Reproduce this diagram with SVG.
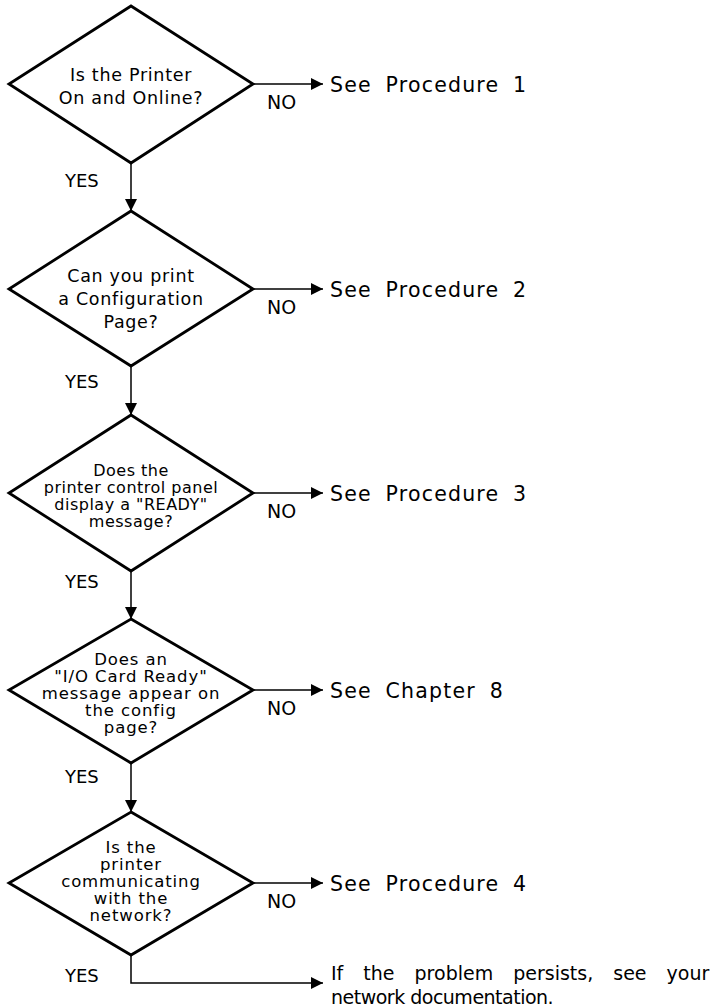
<svg xmlns="http://www.w3.org/2000/svg" width="718" height="1008" viewBox="0 0 718 1008">
<style>
.bg{fill:#fff}
.dia{fill:#fff;stroke:#000;stroke-width:2.8;stroke-linejoin:miter}
.con{fill:none;stroke:#000;stroke-width:1.5}
text{font-family:"DejaVu Sans","Liberation Sans",sans-serif;fill:#000}
.q1{font-size:17.5px;letter-spacing:0.7px;text-anchor:middle}
.q2{font-size:16px;letter-spacing:0.5px;text-anchor:middle}
.q3{font-size:16.5px;letter-spacing:0.9px;text-anchor:middle}
.lbl{font-size:19px}
.yes{font-size:18px}
.out{font-size:20.5px;letter-spacing:1.2px;word-spacing:6px}
.end1{font-size:19px;word-spacing:14px}
.end2{font-size:19px;letter-spacing:-0.5px}
</style>
<defs>
<marker id="ah" markerUnits="userSpaceOnUse" markerWidth="12" markerHeight="12" refX="12" refY="6" orient="auto">
<path d="M0,0 L12,6 L0,12 Z" fill="#000"/>
</marker>
</defs>
<rect class="bg" x="0" y="0" width="718" height="1008"/>
<g id="connectors">
<line class="con" x1="131" y1="163" x2="131" y2="211" marker-end="url(#ah)"/>
<line class="con" x1="131" y1="366" x2="131" y2="415" marker-end="url(#ah)"/>
<line class="con" x1="131" y1="571" x2="131" y2="619" marker-end="url(#ah)"/>
<line class="con" x1="131" y1="763" x2="131" y2="812" marker-end="url(#ah)"/>
<polyline class="con" points="131,955 131,983 323,983" marker-end="url(#ah)"/>
<line class="con" x1="253" y1="84" x2="323" y2="84" marker-end="url(#ah)"/>
<line class="con" x1="253" y1="289" x2="323" y2="289" marker-end="url(#ah)"/>
<line class="con" x1="253" y1="493" x2="323" y2="493" marker-end="url(#ah)"/>
<line class="con" x1="253" y1="690" x2="323" y2="690" marker-end="url(#ah)"/>
<line class="con" x1="253" y1="883" x2="323" y2="883" marker-end="url(#ah)"/>
<text class="lbl" x="267" y="109">NO</text>
<text class="lbl" x="267" y="314">NO</text>
<text class="lbl" x="267" y="518">NO</text>
<text class="lbl" x="267" y="715">NO</text>
<text class="lbl" x="267" y="908">NO</text>
<text class="yes" x="65" y="187">YES</text>
<text class="yes" x="65" y="388">YES</text>
<text class="yes" x="65" y="588">YES</text>
<text class="yes" x="65" y="783">YES</text>
<text class="yes" x="65" y="982">YES</text>
</g>
<g id="d1">
<polygon class="dia" points="131,6 253,84 131,163 9,84"/>
<text class="q1" x="131" y="81">Is the Printer</text>
<text class="q1" x="131" y="104">On and Online?</text>
</g>
<g id="d2">
<polygon class="dia" points="131,211 253,289 131,366 9,289"/>
<text class="q1" x="131" y="282">Can you print</text>
<text class="q1" x="131" y="305">a Configuration</text>
<text class="q1" x="131" y="328">Page?</text>
</g>
<g id="d3">
<polygon class="dia" points="131,415 253,493 131,571 9,493"/>
<text class="q2" x="131" y="476">Does the</text>
<text class="q2" x="131" y="493">printer control panel</text>
<text class="q2" x="131" y="510">display a "READY"</text>
<text class="q2" x="131" y="527">message?</text>
</g>
<g id="d4">
<polygon class="dia" points="131,619 253,690 131,763 9,690"/>
<text class="q3" x="131" y="665">Does an</text>
<text class="q3" x="131" y="682">"I/O Card Ready"</text>
<text class="q3" x="131" y="699">message appear on</text>
<text class="q3" x="131" y="716">the config</text>
<text class="q3" x="131" y="733">page?</text>
</g>
<g id="d5">
<polygon class="dia" points="131,812 253,883 131,955 9,883"/>
<text class="q3" x="131" y="853">Is the</text>
<text class="q3" x="131" y="870">printer</text>
<text class="q3" x="131" y="887">communicating</text>
<text class="q3" x="131" y="904">with the</text>
<text class="q3" x="131" y="921">network?</text>
</g>
<g id="p1"><text class="out" x="330" y="92">See Procedure 1</text></g>
<g id="p2"><text class="out" x="330" y="297">See Procedure 2</text></g>
<g id="p3"><text class="out" x="330" y="501">See Procedure 3</text></g>
<g id="c8"><text class="out" x="330" y="698">See Chapter 8</text></g>
<g id="p4"><text class="out" x="330" y="891">See Procedure 4</text></g>
<g id="end">
<text class="end1" x="331" y="980">If the problem persists, see your</text>
<text class="end2" x="331" y="1004">network documentation.</text>
</g>
</svg>
